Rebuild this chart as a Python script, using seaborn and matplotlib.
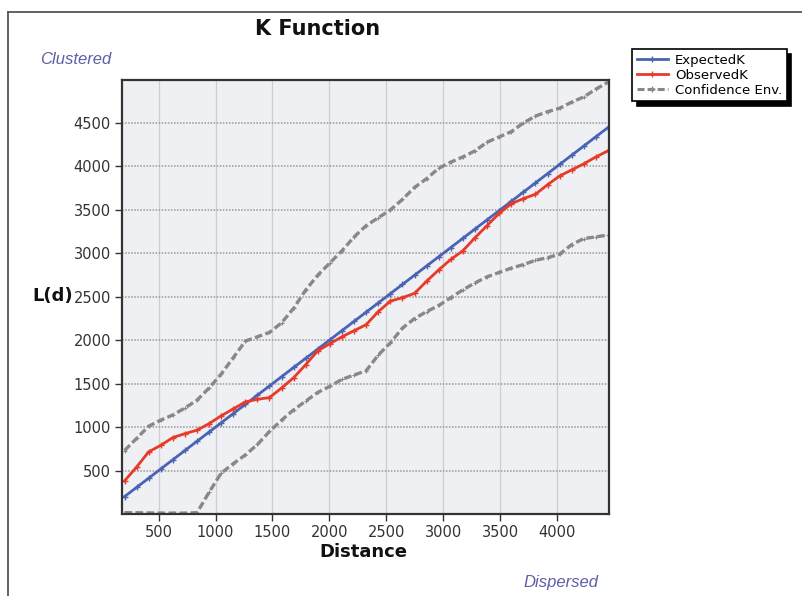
import matplotlib
matplotlib.use("Agg")
import matplotlib.pyplot as plt
import seaborn as sns
import pandas as pd
from matplotlib.lines import Line2D

# ---- data ----
distance = [200, 306, 412, 518, 625, 731, 837, 943, 1049, 1156, 1262, 1368, 1474,
            1580, 1687, 1793, 1899, 2005, 2111, 2218, 2324, 2430, 2536, 2642, 2749,
            2855, 2961, 3067, 3173, 3280, 3386, 3492, 3598, 3704, 3811, 3917, 4023,
            4129, 4235, 4342, 4448]
expected_k = [200, 306, 412, 518, 625, 731, 837, 943, 1049, 1156, 1262, 1368, 1474,
              1580, 1687, 1793, 1899, 2005, 2111, 2218, 2324, 2430, 2536, 2642, 2749,
              2855, 2961, 3067, 3173, 3280, 3386, 3492, 3598, 3704, 3811, 3917, 4023,
              4129, 4235, 4342, 4448]
observed_k = [380, 540, 715, 790, 880, 925, 965, 1040, 1130, 1210, 1290, 1320, 1340,
              1450, 1570, 1720, 1880, 1960, 2040, 2110, 2180, 2330, 2450, 2490, 2540,
              2680, 2810, 2930, 3030, 3180, 3320, 3460, 3570, 3630, 3680, 3790, 3890,
              3960, 4030, 4110, 4180]
env_upper = [730, 870, 1010, 1080, 1140, 1220, 1310, 1450, 1610, 1800, 1990, 2040, 2090,
             2200, 2370, 2580, 2750, 2890, 3030, 3190, 3320, 3410, 3500, 3620, 3760,
             3860, 3980, 4050, 4110, 4180, 4280, 4340, 4400, 4500, 4580, 4630, 4670,
             4740, 4800, 4890, 4970]
env_lower = [15, 15, 12, 10, 10, 10, 15, 250, 470, 580, 680, 800, 950,
             1080, 1200, 1300, 1400, 1470, 1550, 1600, 1650, 1830, 1970, 2140, 2250,
             2330, 2400, 2490, 2580, 2660, 2730, 2780, 2830, 2870, 2920, 2950, 2990,
             3100, 3170, 3190, 3210]
x_ticks = [500, 1000, 1500, 2000, 2500, 3000, 3500, 4000]
y_ticks = [500, 1000, 1500, 2000, 2500, 3000, 3500, 4000, 4500]
series_labels = ["ExpectedK", "ObservedK", "Confidence Env."]

df = pd.DataFrame({"Distance": distance, "Expected": expected_k, "Observed": observed_k,
                   "Upper": env_upper, "Lower": env_lower})

BLUE = "#4a63b5"
RED = "#e83a28"
GRAY = "#8c8787"

W, H = 802, 596
fig = plt.figure(figsize=(W / 100, H / 100), dpi=100)
fig.patch.set_facecolor("white")
ax = fig.add_axes([122 / W, (H - 514) / H, 487 / W, 434 / H])
ax.set_facecolor("#eef0f3")

dash = (0, (2.3, 1.0))
sns.lineplot(data=df, x="Distance", y="Upper", ax=ax, color=GRAY, lw=2.4,
             linestyle=dash, marker="+", ms=3, mew=0.8, mec=GRAY)
sns.lineplot(data=df, x="Distance", y="Lower", ax=ax, color=GRAY, lw=2.4,
             linestyle=dash, marker="+", ms=3, mew=0.8, mec=GRAY)
sns.lineplot(data=df, x="Distance", y="Expected", ax=ax, color=BLUE, lw=2.0,
             marker="+", ms=4, mew=1, mec=BLUE)
sns.lineplot(data=df, x="Distance", y="Observed", ax=ax, color=RED, lw=2.0,
             marker="+", ms=4, mew=1, mec=RED)

ax.set_xlim(178, 4457)
ax.set_ylim(0, 4995)
ax.set_xticks(x_ticks)
ax.set_yticks(y_ticks)
ax.set_axisbelow(True)
ax.yaxis.grid(True, color="#9c9696", linestyle=(0, (1, 1)), lw=1.1)
ax.xaxis.grid(True, color="#cfcfcf", linestyle="-", lw=0.9)
for s in ax.spines.values():
    s.set_color("#333333")
    s.set_linewidth(1.6)
ax.tick_params(direction="out", length=5, width=1, colors="#333333", labelsize=10.5,
               pad=3)

ax.set_xlabel("Distance", fontsize=13, fontweight="bold", color="#111111")
ax.xaxis.set_label_coords((363 - 122) / 487, (514 - 552) / 434)
ax.xaxis.label.set_va("center")
ax.set_ylabel("L(d)", fontsize=13, fontweight="bold", rotation=0, color="#111111")
ax.yaxis.set_label_coords((53 - 122) / 487, (514 - 296) / 434)
ax.yaxis.label.set_va("center")
ax.yaxis.label.set_ha("center")

fig.text(318 / W, 1 - 29 / H, "K Function", fontsize=15, fontweight="bold",
         ha="center", va="center", color="#111111")
fig.text(40 / W, 1 - 60 / H, "Clustered", fontsize=12, style="italic",
         family="Liberation Sans", color="#5c5fa8", ha="left", va="center")
fig.text(561 / W, 1 - 583 / H, "Dispersed", fontsize=12, style="italic",
         family="Liberation Sans", color="#5c5fa8", ha="center", va="center")

handles = [
    Line2D([], [], color=BLUE, lw=2.0, marker="+", ms=5, mew=1),
    Line2D([], [], color=RED, lw=2.0, marker="+", ms=5, mew=1),
    Line2D([], [], color=GRAY, lw=2.2, linestyle=dash, marker="+", ms=5, mew=1),
]
leg = fig.legend(handles, series_labels, loc="upper left",
                 bbox_to_anchor=(632 / W, 1 - 49 / H), fontsize=9.5,
                 frameon=True, fancybox=False, edgecolor="black", framealpha=1,
                 handlelength=2.4, handletextpad=0.5, borderpad=0.35,
                 labelspacing=0.15, borderaxespad=0,
                 shadow={"ox": 3.3, "oy": -3.3, "color": "black", "alpha": 1})
leg.get_frame().set_linewidth(1.2)

# outer frame (left and top edges)
fig.add_artist(Line2D([8 / W, 1], [1 - 12 / H, 1 - 12 / H], transform=fig.transFigure,
                      color="#555555", lw=1.3))
fig.add_artist(Line2D([8 / W, 8 / W], [0, 1 - 12 / H], transform=fig.transFigure,
                      color="#555555", lw=1.3))

fig.savefig("out.png", dpi=100)
